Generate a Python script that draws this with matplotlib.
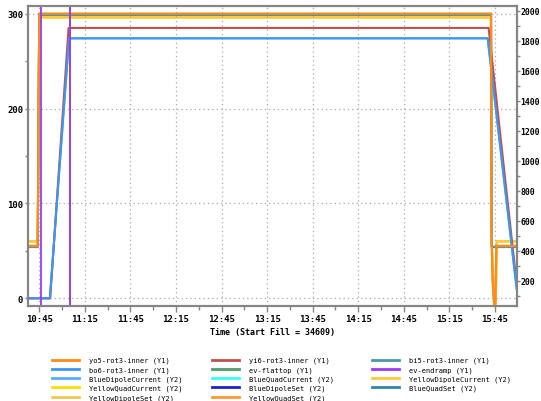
import matplotlib
matplotlib.use("Agg")
import matplotlib.pyplot as plt
from matplotlib.ticker import FixedLocator, MultipleLocator
from matplotlib.lines import Line2D
from matplotlib.font_manager import FontProperties

# ---- data (time in minutes after 10:00) ----
xtick_labels = ["10:45", "11:15", "11:45", "12:15", "12:45", "13:15",
                "13:45", "14:15", "14:45", "15:15", "15:45"]
x_range = [37.6, 359.3]

# Y1 series
yo5_t = [37.6, 44.0, 45.0, 342.4, 342.8, 343.4, 344.4, 345.2, 345.9, 359.3]
yo5_v = [55, 55, 300, 300, 62, 20, -6, -6, 55, 55]
bi5_t = [37.6, 44.0, 45.0, 342.4, 342.9, 359.3]
bi5_v = [54, 54, 299, 299, 54, 54]
bo6_t = [37.6, 52.0, 64.6, 340.2, 359.3]
bo6_v = [0, 0, 274, 274, 10]
yi6_t = [37.6, 52.2, 64.3, 340.8, 359.3]
yi6_v = [0, 0, 285, 285, 15]
ev_flattop_t = [65.4]
ev_endramp_t = [46.3, 65.4]

# Y2 series
yellow_t = [37.6, 44.0, 45.0, 342.3, 342.8, 344.5, 345.5, 346.2, 359.3]
ydc_v = [463, 463, 1956, 1956, 470, 44, 44, 463, 463]   # YellowDipoleCurrent
yqc_v = [461, 461, 1954, 1954, 470, 44, 44, 461, 461]   # YellowQuadCurrent
yds_v = [462, 462, 1955, 1955, 470, 44, 44, 462, 462]   # YellowDipoleSet
yqs_t = yo5_t
yqs_v = [433, 433, 1980, 1980, 475, 210, 44, 44, 433, 433]  # YellowQuadSet
bqs_t = bi5_t
bqs_v = [426, 426, 1972, 1972, 426, 426]                # BlueQuadSet
bdc_t = bo6_t
bdc_v = [83, 83, 1816, 1816, 145]                       # BlueDipoleCurrent
bds_t = []
bds_v = []                                              # BlueDipoleSet
bqc_t = []
bqc_v = []                                              # BlueQuadCurrent

y1_range = [-7.8, 307.8]
y2_range = [33, 2029]

# ---- figure ----
fig = plt.figure(figsize=(5.41, 4.02), dpi=100)
ax = fig.add_axes([28 / 541, 1 - 306.7 / 402, (516.7 - 28) / 541, (306.7 - 7.3) / 402])
ax2 = ax.twinx()
ax.set_zorder(ax2.get_zorder() + 1)
ax.patch.set_visible(False)

lw = 1.5
C = {
    "yo5": "#ff8c1a", "bo6": "#3d97f0", "bdc": "#5aacff", "yqc": "#ffdd00",
    "yds": "#f0c850", "yi6": "#c0504d", "evf": "#4f9a6f", "bqc": "#33ffff",
    "bds": "#2020d0", "yqs": "#ff9933", "bi5": "#4a98aa", "eve": "#9b3cf0",
    "ydc": "#ffc83a", "bqs": "#2f86a8",
}

# Y2 lines (below)
ax2.plot(bqs_t, bqs_v, color=C["bqs"], lw=lw)
ax2.plot(bdc_t, bdc_v, color=C["bdc"], lw=lw)
ax2.plot(bds_t, bds_v, color=C["bds"], lw=lw)
ax2.plot(bqc_t, bqc_v, color=C["bqc"], lw=lw)
ax2.plot(yellow_t, yqc_v, color=C["yqc"], lw=lw)
ax2.plot(yellow_t, yds_v, color=C["yds"], lw=lw)
ax2.plot(yellow_t, ydc_v, color=C["ydc"], lw=lw)
ax2.plot(yqs_t, yqs_v, color=C["yqs"], lw=lw)

# Y1 lines (above)
ax.plot(bi5_t, bi5_v, color=C["bi5"], lw=lw)
ax.plot(yi6_t, yi6_v, color=C["yi6"], lw=lw)
ax.plot(bo6_t, bo6_v, color=C["bo6"], lw=lw)
ax.plot(yo5_t, yo5_v, color=C["yo5"], lw=lw)
for t in ev_flattop_t:
    ax.axvline(t, color=C["evf"], lw=1.3)
for t in ev_endramp_t:
    ax.axvline(t, color=C["eve"], lw=1.3)

# ---- axes styling ----
def to_min(s):
    h, m = s.split(":")
    return (int(h) - 10) * 60 + int(m)

ax.set_xlim(*x_range)
ax.set_ylim(*y1_range)
ax2.set_ylim(*y2_range)

ax.xaxis.set_major_locator(FixedLocator([to_min(s) for s in xtick_labels]))
ax.set_xticklabels(xtick_labels)
ax.xaxis.set_minor_locator(MultipleLocator(15))
ax.yaxis.set_major_locator(MultipleLocator(100))
ax.yaxis.set_minor_locator(MultipleLocator(50))
ax2.yaxis.set_major_locator(MultipleLocator(200))
ax2.yaxis.set_minor_locator(MultipleLocator(100))

for lab in ax.get_xticklabels() + ax.get_yticklabels():
    lab.set_fontproperties(FontProperties(family="DejaVu Sans Mono", weight="bold", size=6.5))
for lab in ax2.get_yticklabels():
    lab.set_fontproperties(FontProperties(family="DejaVu Sans Mono", weight="bold", size=5.9))

spine_c = "#858585"
for a in (ax, ax2):
    for sp in a.spines.values():
        sp.set_color(spine_c)
        sp.set_linewidth(1.5)
ax.tick_params(axis="x", which="major", direction="out", length=4, width=1, color=spine_c, pad=2)
ax.tick_params(axis="x", which="minor", direction="out", length=3, width=1, color=spine_c)
ax.tick_params(axis="y", which="major", direction="out", length=2.5, width=1, color=spine_c, pad=1)
ax.tick_params(axis="y", which="minor", direction="out", length=2, width=1, color=spine_c)
ax2.tick_params(axis="y", which="major", direction="out", length=2, width=1, color=spine_c, pad=0.5)
ax2.tick_params(axis="y", which="minor", direction="out", length=2, width=1, color=spine_c)

ax.grid(True, which="major", color="#a8a8a8", linestyle=(0, (1, 2.5)), lw=0.9)
ax.set_axisbelow(True)

ax.set_xlabel("Time (Start Fill = 34609)", fontfamily="DejaVu Sans Mono",
              fontweight="bold", fontsize=6, labelpad=3)

# ---- legend (three columns, row-major order) ----
cols = [
    [("yo5-rot3-inner (Y1)", C["yo5"]), ("bo6-rot3-inner (Y1)", C["bo6"]),
     ("BlueDipoleCurrent (Y2)", C["bdc"]), ("YellowQuadCurrent (Y2)", C["yqc"]),
     ("YellowDipoleSet (Y2)", C["yds"])],
    [("yi6-rot3-inner (Y1)", C["yi6"]), ("ev-flattop (Y1)", C["evf"]),
     ("BlueQuadCurrent (Y2)", C["bqc"]), ("BlueDipoleSet (Y2)", C["bds"]),
     ("YellowQuadSet (Y2)", C["yqs"])],
    [("bi5-rot3-inner (Y1)", C["bi5"]), ("ev-endramp (Y1)", C["eve"]),
     ("YellowDipoleCurrent (Y2)", C["ydc"]), ("BlueQuadSet (Y2)", C["bqs"])],
]
col_x = [51.7, 211.7, 371.7]
leg_font = FontProperties(family="DejaVu Sans Mono", size=5)
for items, xpx in zip(cols, col_x):
    handles = [Line2D([], [], color=c, lw=2) for _, c in items]
    labels = [l for l, _ in items]
    fig.legend(handles, labels, loc="upper left",
               bbox_to_anchor=(xpx / 541, 1 - 358 / 402),
               frameon=False, borderpad=0, borderaxespad=0,
               handlelength=3.9, handletextpad=1.44, labelspacing=0.4,
               prop=leg_font)

fig.savefig("out.png", dpi=100)
